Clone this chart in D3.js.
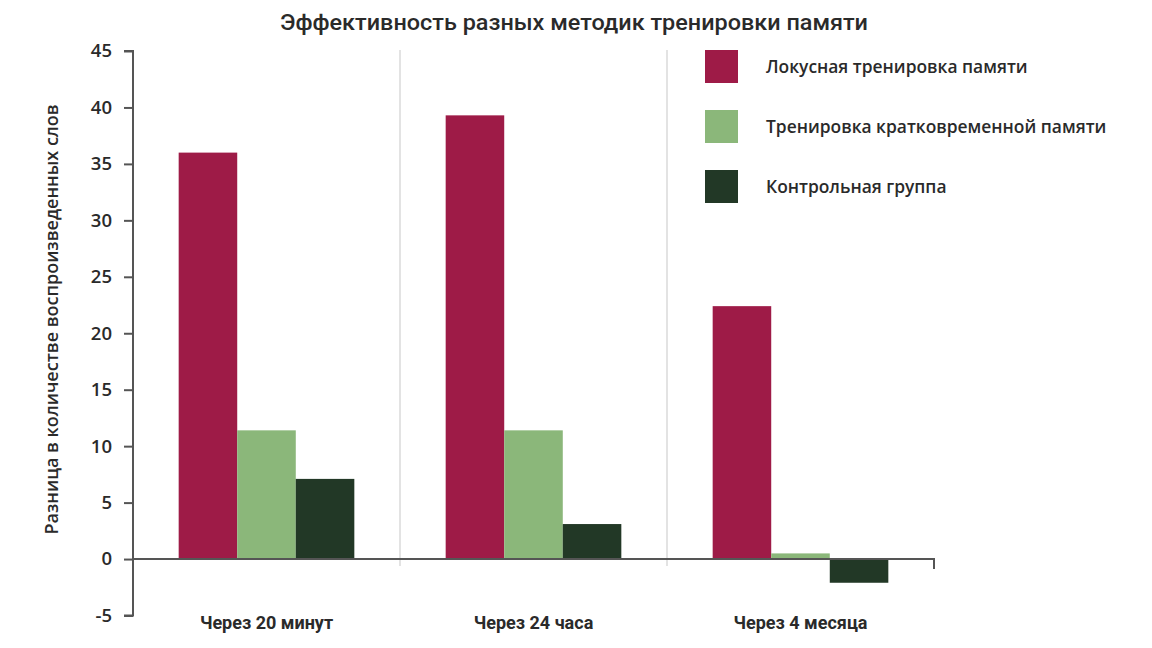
<!DOCTYPE html>
<html><head><meta charset="utf-8">
<script src="https://cdn.jsdelivr.net/npm/d3@7"></script>
<style>body{margin:0;background:#fff}svg{display:block}</style>
</head><body>
<svg id="c" width="1152" height="648"></svg>
<script>
const categories = ["Через 20 минут", "Через 24 часа", "Через 4 месяца"];
const seriesNames = ["Локусная тренировка памяти", "Тренировка кратковременной памяти", "Контрольная группа"];
const loci = [36, 39.3, 22.4];
const shortTerm = [11.4, 11.4, 0.5];
const control = [7.1, 3.1, -2.1];
const yTicks = [-5, 0, 5, 10, 15, 20, 25, 30, 35, 40, 45];
const colors = ["#9e1b47", "#8bb77a", "#223826"];
const title = "Эффективность разных методик тренировки памяти";
const yLabel = "Разница в количестве воспроизведенных слов";

const series = [loci, shortTerm, control];
const svg = d3.select("#c");
const textColor = "#2a2a2a";
const x = d3.scaleBand().domain(categories).range([133, 934]).paddingInner(0).paddingOuter(0);
const xs = d3.scaleBand().domain(d3.range(series.length)).range([0, x.bandwidth()]).paddingInner(0).paddingOuter(0.78);
const y = d3.scaleLinear().domain([-5, 45]).range([615.5, 51]);

// group separators
svg.append("g").selectAll("line").data(categories.slice(1)).join("line")
  .attr("x1", d => x(d)).attr("x2", d => x(d)).attr("y1", 50).attr("y2", 566)
  .attr("stroke", "#d0d0d0").attr("stroke-width", 1.2);

// bars
const g = svg.append("g");
series.forEach((vals, si) => {
  g.selectAll(null).data(vals).join("rect")
    .attr("x", (d, i) => x(categories[i]) + xs(si))
    .attr("width", xs.bandwidth())
    .attr("y", d => y(Math.max(0, d)))
    .attr("height", d => Math.abs(y(d) - y(0)))
    .attr("fill", colors[si]);
});

// y axis
const yAxis = svg.append("g").attr("transform", "translate(133,0)")
  .call(d3.axisLeft(y).tickValues(yTicks).tickSize(9).tickPadding(12).tickFormat(d => String(d)));
yAxis.select(".domain").attr("stroke", "#555").attr("stroke-width", 2).attr("d", `M-9,${y(45)}H0V${y(-5)}H-9`);
yAxis.selectAll(".tick line").attr("stroke", "#555").attr("stroke-width", 2);
yAxis.selectAll(".tick text").attr("fill", textColor).attr("font-family", "Open Sans, sans-serif")
  .attr("font-weight", 600).attr("font-size", 18.5);

// zero baseline
svg.append("path").attr("d", `M133,${y(0)}H934V${y(0) + 10}`).attr("fill", "none")
  .attr("stroke", "#555").attr("stroke-width", 2);

// x category labels
svg.append("g").selectAll("text").data(categories).join("text")
  .attr("x", d => x(d) + x.bandwidth() / 2).attr("y", 629)
  .attr("text-anchor", "middle").attr("fill", textColor)
  .attr("font-family", "Liberation Sans Narrow, Roboto, sans-serif").attr("font-weight", 700).attr("font-size", 18)
  .text(d => d);

// title
svg.append("text").attr("x", 574).attr("y", 30).attr("text-anchor", "middle")
  .attr("fill", textColor).attr("font-family", "Roboto, sans-serif").attr("font-weight", 500)
  .attr("font-size", 22).attr("textLength", 588).attr("lengthAdjust", "spacingAndGlyphs").text(title);

// y label
svg.append("text").attr("transform", `translate(58,${(104 + 535) / 2}) rotate(-90)`)
  .attr("text-anchor", "middle").attr("fill", textColor)
  .attr("font-family", "Open Sans, sans-serif").attr("font-weight", 600).attr("font-size", 18)
  .text(yLabel);

// legend
const leg = svg.append("g").selectAll("g").data(seriesNames).join("g")
  .attr("transform", (d, i) => `translate(705,${50 + i * 60})`);
leg.append("rect").attr("width", 33).attr("height", 33).attr("fill", (d, i) => colors[i]);
leg.append("text").attr("x", 61).attr("y", 23).attr("fill", textColor)
  .attr("font-family", "Open Sans, sans-serif").attr("font-weight", 600).attr("font-size", 17.4)
  .text(d => d);
</script>
</body></html>
